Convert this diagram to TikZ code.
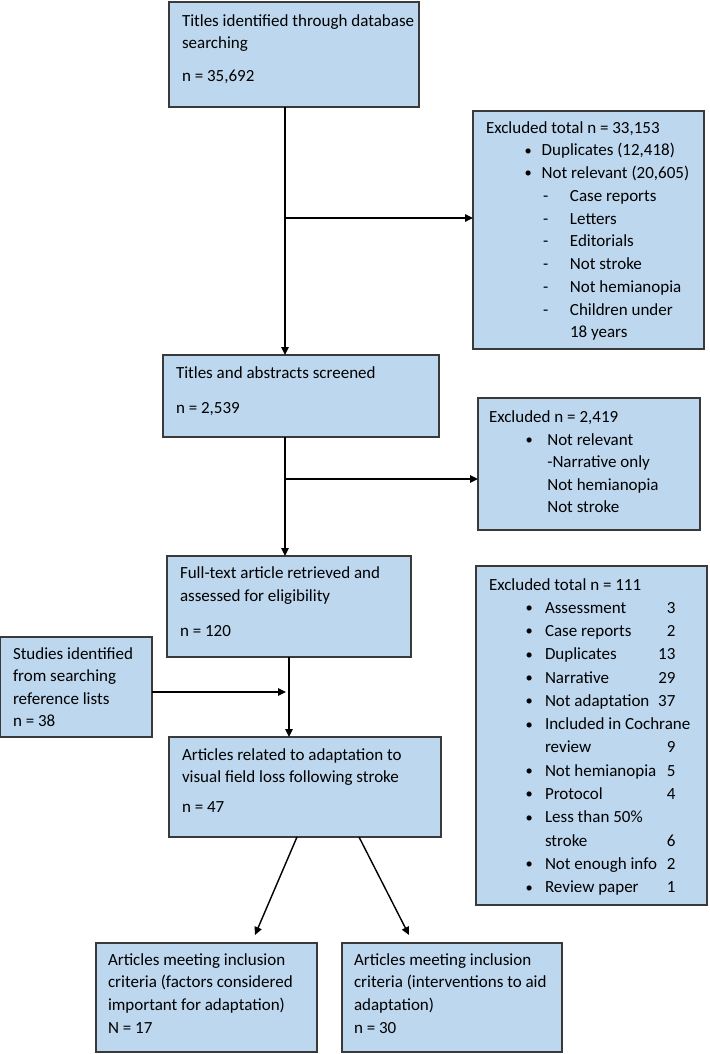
\documentclass[tikz,border=0pt]{standalone}
\usepackage{fontspec}
\setmainfont{Carlito}
\usetikzlibrary{arrows.meta}
\definecolor{boxfill}{HTML}{BDD7EE}
\definecolor{boxline}{HTML}{3A3A3A}
\newcommand\tline[1]{\hbox{#1}}
\newcommand\putx[2]{\makebox[0pt][l]{\hspace*{#1}#2}}
\newcommand\bdot{\makebox[0pt]{\raisebox{0.6pt}{\scalebox{0.85}{\textbullet}}}}
% Excluded 1 lines
\newcommand\eAb[1]{\tline{\putx{42.3pt}{\bdot}\putx{55.7pt}{#1}}}
\newcommand\eAd[1]{\tline{\putx{59.7pt}{\makebox[0pt]{-}}\putx{84pt}{#1}}}
% Excluded 3 lines
\newcommand\eCb[2]{\tline{\putx{40.3pt}{\bdot}\putx{56pt}{#1}\putx{186.5pt}{\makebox[0pt][r]{#2}}}}
\newcommand\eCc[2]{\tline{\putx{56pt}{#1}\putx{186.5pt}{\makebox[0pt][r]{#2}}}}
\tikzset{
  box/.style={draw=boxline, fill=boxfill, line width=1.3pt, inner sep=0pt, outer sep=0pt, anchor=north west},
  txt/.style={anchor=base west, inner sep=0pt, outer sep=0pt, font=\fontsize{17pt}{22pt}\selectfont, text=black},
  arr/.style={draw=black, line width=1.4pt, -{Triangle[length=8pt,width=7.5pt]}}
}
\begin{document}
\begin{tikzpicture}[x=1pt,y=-1pt]
\useasboundingbox (0,0) rectangle (709,1054);
% boxes
\node[box, minimum width=250pt, minimum height=105pt] (b1) at (169,2) {};
\node[box, minimum width=231pt, minimum height=238pt] (e1) at (473,111) {};
\node[box, minimum width=276pt, minimum height=82pt] (b2) at (163,355) {};
\node[box, minimum width=222pt, minimum height=132pt] (e2) at (478,398) {};
\node[box, minimum width=244pt, minimum height=101pt] (b3) at (167,556) {};
\node[box, minimum width=231pt, minimum height=339pt] (e3) at (476,566) {};
\node[box, minimum width=151.3pt, minimum height=100pt] (st) at (0.7,637) {};
\node[box, minimum width=272pt, minimum height=100pt] (b4) at (169,737) {};
\node[box, minimum width=221pt, minimum height=109pt] (f1) at (96,943) {};
\node[box, minimum width=220pt, minimum height=109pt] (f2) at (342,943) {};
% texts
\node[txt] (t1) at (182,26.5) {\vtop{\baselineskip=22.5pt
  \tline{Titles identified through database}
  \tline{searching}\kern10.5pt
  \tline{n = 35,692}}};
\node[txt] (te1) at (486,133) {\vtop{\baselineskip=22.75pt
  \tline{Excluded total n = 33,153}
  \eAb{Duplicates (12,418)}
  \eAb{Not relevant (20,605)}
  \eAd{Case reports}
  \eAd{Letters}
  \eAd{Editorials}
  \eAd{Not stroke}
  \eAd{Not hemianopia}
  \eAd{Children under}
  \tline{\putx{84pt}{18 years}}}};
\node[txt] (t2) at (176,378) {\vtop{\baselineskip=22.5pt
  \tline{Titles and abstracts screened}\kern12.5pt
  \tline{n = 2,539}}};
\node[txt] (te2) at (489,422.4) {\vtop{\baselineskip=22.6pt
  \tline{Excluded n = 2,419}
  \tline{\putx{40.3pt}{\bdot}\putx{58.3pt}{Not relevant}}
  \tline{\putx{58.3pt}{-Narrative only}}
  \tline{\putx{58.3pt}{Not hemianopia}}
  \tline{\putx{58.3pt}{Not stroke}}}};
\node[txt] (t3) at (180,578.3) {\vtop{\baselineskip=23.4pt
  \tline{Full-text article retrieved and}
  \tline{assessed for eligibility}\kern11.6pt
  \tline{n = 120}}};
\node[txt] (te3) at (489,590) {\vtop{\baselineskip=23.28pt
  \tline{Excluded total n = 111}
  \eCb{Assessment}{3}
  \eCb{Case reports}{2}
  \eCb{Duplicates}{13}
  \eCb{Narrative}{29}
  \eCb{Not adaptation}{37}
  \eCb{Included in Cochrane}{}
  \eCc{review}{9}
  \eCb{Not hemianopia}{5}
  \eCb{Protocol}{4}
  \eCb{Less than 50\%}{}
  \eCc{stroke}{6}
  \eCb{Not enough info}{2}
  \eCb{Review paper}{1}}};
\node[txt] (tst) at (13,659) {\vtop{\baselineskip=22.5pt
  \tline{Studies identified}
  \tline{from searching}
  \tline{reference lists}
  \tline{n = 38}}};
\node[txt] (t4) at (182,760) {\vtop{\baselineskip=22pt
  \tline{Articles related to adaptation to}
  \tline{visual field loss following stroke}\kern8pt
  \tline{n = 47}}};
\node[txt] (tf1) at (108,965) {\vtop{\baselineskip=22.7pt
  \tline{Articles meeting inclusion}
  \tline{criteria (factors considered}
  \tline{important for adaptation)}
  \tline{N = 17}}};
\node[txt] (tf2) at (354,965) {\vtop{\baselineskip=22.7pt
  \tline{Articles meeting inclusion}
  \tline{criteria (interventions to aid}
  \tline{adaptation)}
  \tline{n = 30}}};
% connectors
\coordinate (v1) at (285,0);
\coordinate (h1) at (285,218);
\coordinate (h2) at (285,479);
\coordinate (h3) at (286,692);
\coordinate (d1) at (297,837);
\coordinate (d2) at (359,837);
\coordinate (p1) at (255,935);
\coordinate (p2) at (409,935);
\draw[arr] (b1.south -| v1) -- (b2.north -| v1);
\draw[arr] (h1) -- (h1 -| e1.west);
\draw[arr] (b2.south -| v1) -- (b3.north -| v1);
\draw[arr] (h2) -- (h2 -| e2.west);
\draw[arr] (h3 -| st.east) -- (h3);
\draw[arr] (b3.south) -- (b4.north -| b3.south);
\draw[arr] (d1) -- (p1);
\draw[arr] (d2) -- (p2);
\end{tikzpicture}
\end{document}
